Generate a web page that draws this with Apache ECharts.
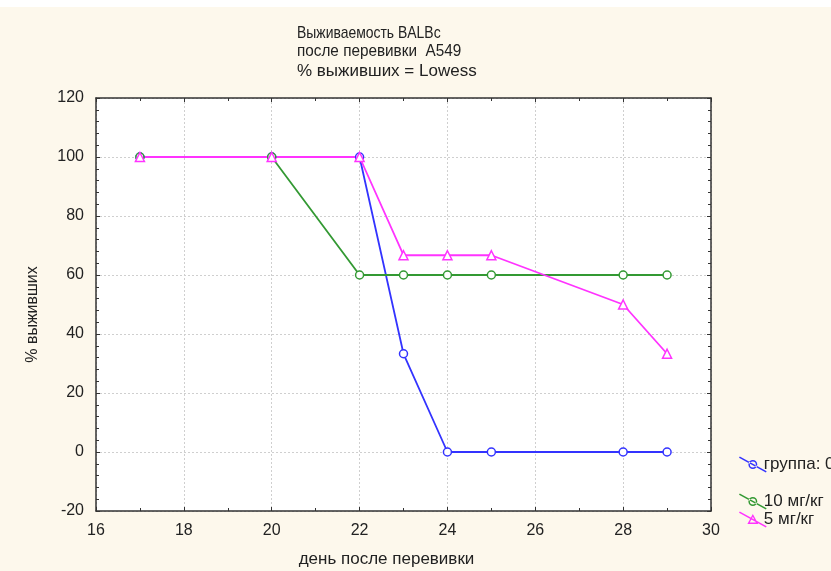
<!DOCTYPE html>
<html>
<head>
<meta charset="utf-8">
<script src="https://cdn.jsdelivr.net/npm/echarts@6/dist/echarts.min.js"></script>
<style>
html, body { margin: 0; padding: 0; background: #ffffff; }
#chart { position: absolute; left: 0; top: 7px; width: 831px; height: 564px; }
</style>
</head>
<body>
<div id="chart"></div>
<script>
// дни после перевивки
var days = [17, 20, 22, 23, 24, 25, 28, 29];
// % выживших
var group0 = [100, 100, 100, 33.3, 0, 0, 0, 0];
var dose10 = [100, 100, 60, 60, 60, 60, 60, 60];
var dose5 = [100, 100, 100, 66.7, 66.7, 66.7, 50, 33.3];
var seriesNames = ['группа: 0', '10 мг/кг', '5 мг/кг'];
var titleLines = ['Выживаемость BALBc', 'после перевивки  A549', '% выживших = Lowess'];

function pairs(vals) {
  return days.map(function (d, i) { return [d, vals[i]]; });
}

// slanted legend icons: line + hollow marker
var ring = 'M9.5 7.5 A4.5 4.5 0 1 0 18.5 7.5 A4.5 4.5 0 1 0 9.5 7.5 Z M11 7.5 A3 3 0 1 1 17 7.5 A3 3 0 1 1 11 7.5 Z';
var lineShape = 'M0 0.7 L0.8 -0.6 L28 14.3 L27.2 15.6 Z ';
var tri = 'M14 2 L19.5 12 L8.5 12 Z M14 4.8 L10.9 10.6 L17.1 10.6 Z';
var iconCircle = 'path://' + lineShape + ring;
var iconTri = 'path://' + lineShape + tri;

var myChart = echarts.init(document.getElementById('chart'));
var axisCol = '#333333';
var font = 'Liberation Sans, Arial';
var gridLine = { show: true, lineStyle: { color: '#cfcfcf', type: [2, 2], width: 1 } };

function legendAt(name, icon, color, top) {
  return {
    data: [{ name: name, icon: icon, itemStyle: { color: color, borderWidth: 0 } }],
    left: 734, top: top, orient: 'vertical',
    itemWidth: 28, itemHeight: 16, itemGap: 0,
    selectedMode: false,
    textStyle: { fontSize: 17, color: '#222', fontFamily: font, padding: [0, 0, 0, -8] }
  };
}

// первые две строки заголовка в оригинале узким шрифтом
function narrowLine(text, y, sx) {
  return {
    type: 'text', x: 297, y: y, scaleX: sx, silent: true,
    style: { text: text, fill: '#222', font: '17px Liberation Sans, Arial', textVerticalAlign: 'middle' }
  };
}

myChart.setOption({
  backgroundColor: '#fdf8ec',
  animation: false,
  title: {
    text: titleLines[2],
    left: 297, top: 56, padding: 0,
    textStyle: { fontSize: 17, fontWeight: 'normal', color: '#222', fontFamily: font }
  },
  graphic: [
    narrowLine(titleLines[0], 26, 0.82),
    narrowLine(titleLines[1], 44, 0.9)
  ],
  legend: [
    legendAt(seriesNames[0], iconCircle, '#3333ff', 444),
    legendAt(seriesNames[1], iconCircle, '#339933', 481),
    legendAt(seriesNames[2], iconTri, '#ff33ff', 499)
  ],
  grid: {
    left: 96, top: 91, width: 615, height: 413,
    outerBoundsMode: 'none',
    show: true, backgroundColor: '#ffffff', borderWidth: 0
  },
  xAxis: [{
    type: 'value', min: 16, max: 30, interval: 2,
    name: 'день после перевивки', nameLocation: 'middle', nameGap: 40,
    nameTextStyle: { fontSize: 17, color: '#222', fontFamily: font, padding: [0, 34, 0, 0] },
    axisLine: { show: true, onZero: false, lineStyle: { color: axisCol, width: 1.5 } },
    axisTick: { show: true, inside: true, length: 4, lineStyle: { color: axisCol } },
    minorTick: { show: true, splitNumber: 2, length: 3, lineStyle: { color: axisCol } },
    axisLabel: { fontSize: 16, color: '#222', margin: 12, fontFamily: font },
    splitLine: gridLine
  }, {
    type: 'value', min: 16, max: 30, interval: 2, position: 'top',
    axisLine: { show: true, onZero: false, lineStyle: { color: axisCol, width: 1.5 } },
    axisTick: { show: true, inside: true, length: 4, lineStyle: { color: axisCol } },
    minorTick: { show: true, splitNumber: 2, length: 3, lineStyle: { color: axisCol } },
    axisLabel: { show: false }, splitLine: { show: false }
  }],
  yAxis: [{
    type: 'value', min: -20, max: 120, interval: 20,
    name: '% выживших', nameLocation: 'middle', nameGap: 55,
    nameTextStyle: { fontSize: 16, color: '#222', fontFamily: font, padding: [0, 20, 0, 0] },
    axisLine: { show: true, onZero: false, lineStyle: { color: axisCol, width: 1.5 } },
    axisTick: { show: true, inside: true, length: 4, lineStyle: { color: axisCol } },
    minorTick: { show: true, splitNumber: 5, length: 3, lineStyle: { color: axisCol } },
    axisLabel: { fontSize: 16, color: '#222', margin: 12, fontFamily: font },
    splitLine: gridLine
  }, {
    type: 'value', min: -20, max: 120, interval: 20, position: 'right',
    axisLine: { show: true, onZero: false, lineStyle: { color: axisCol, width: 1.5 } },
    axisTick: { show: true, inside: true, length: 4, lineStyle: { color: axisCol } },
    minorTick: { show: true, splitNumber: 5, length: 3, lineStyle: { color: axisCol } },
    axisLabel: { show: false }, splitLine: { show: false }
  }],
  series: [{
    name: seriesNames[0], type: 'line', data: pairs(group0),
    symbol: 'circle', symbolSize: 8, color: '#3333ff',
    lineStyle: { width: 1.8, color: '#3333ff' },
    itemStyle: { color: '#ffffff', borderColor: '#3333ff', borderWidth: 1.5 }
  }, {
    name: seriesNames[1], type: 'line', data: pairs(dose10),
    symbol: 'circle', symbolSize: 8, color: '#339933',
    lineStyle: { width: 1.8, color: '#339933' },
    itemStyle: { color: '#ffffff', borderColor: '#339933', borderWidth: 1.5 }
  }, {
    name: seriesNames[2], type: 'line', data: pairs(dose5),
    symbol: 'triangle', symbolSize: 9, color: '#ff33ff',
    lineStyle: { width: 1.8, color: '#ff33ff' },
    itemStyle: { color: '#ffffff', borderColor: '#ff33ff', borderWidth: 1.5 }
  }]
});
</script>
</body>
</html>
